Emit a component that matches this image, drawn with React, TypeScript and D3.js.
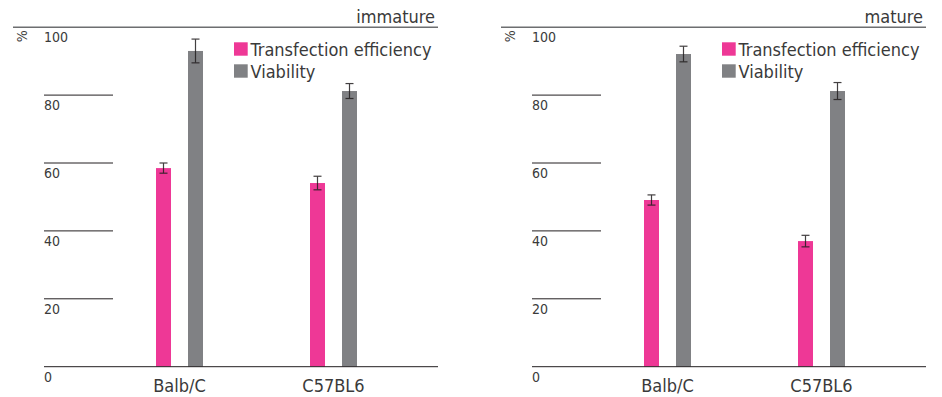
import React from 'react';
import * as d3 from 'd3';

// categories and series
const categories = ['Balb/C', 'C57BL6'];
const seriesNames = ['Transfection efficiency', 'Viability'];
const seriesColors = ['#ee3896', '#808184'];
const yTicks = [0, 20, 40, 60, 80, 100];

// values (%), with error bar half-widths
const immatureTransfection = [58.5, 54.1];
const immatureTransfectionErr = [1.5, 2.0];
const immatureViability = [93.0, 81.2];
const immatureViabilityErr = [3.5, 2.2];

const matureTransfection = [49.1, 37.0];
const matureTransfectionErr = [1.5, 1.7];
const matureViability = [92.1, 81.2];
const matureViabilityErr = [2.3, 2.5];

const W = 942;
const H = 397;
const panelWidth = 425;
const font = "'DejaVu Sans Condensed', sans-serif";
const textColor = '#3a3a3a';

interface PanelProps {
  title: string;
  x0: number;
  values: number[][];
  errors: number[][];
}

const Panel: React.FC<PanelProps> = ({ title, x0, values, errors }) => {
  const y = d3.scaleLinear().domain([0, 100]).range([366.7, 27.2]);
  const x = d3.scalePoint<string>().domain(categories).range([166.5, 320.5]);
  const sub = d3.scalePoint<string>().domain(seriesNames).range([-16, 16]);
  const barW = 15;
  const labelX = 31;

  return (
    <g transform={`translate(${x0},0)`}>
      {/* title and top rule */}
      <text x={panelWidth - 3} y={23} textAnchor="end" fontSize={18} fill={textColor} fontFamily={font}>
        {title}
      </text>
      <line x1={0} x2={panelWidth} y1={y(100)} y2={y(100)} stroke="#6d6e70" strokeWidth={1.5} />
      <text
        transform={`translate(9,${y(100) + 9}) rotate(-90)`}
        textAnchor="middle"
        dominantBaseline="central"
        fontSize={14}
        fill={textColor}
        fontFamily={font}
      >
        %
      </text>

      {/* y ticks */}
      {yTicks.map((t) => (
        <g key={t}>
          {t > 0 && t < 100 && (
            <line x1={labelX} x2={100} y1={y(t)} y2={y(t)} stroke="#231f20" strokeWidth={1} />
          )}
          <text x={labelX} y={y(t) + 15} fontSize={14} fill={textColor} fontFamily={font}>
            {t}
          </text>
        </g>
      ))}

      {/* bars */}
      {categories.map((c, ci) =>
        seriesNames.map((s, si) => {
          const cx = (x(c) as number) + (sub(s) as number);
          const v = values[si][ci];
          const e = errors[si][ci];
          return (
            <g key={c + s}>
              <rect x={cx - barW / 2} y={y(v)} width={barW} height={y(0) - y(v)} fill={seriesColors[si]} />
              <g stroke="#231f20" strokeWidth={1.2} opacity={0.85}>
                <line x1={cx} x2={cx} y1={y(v + e)} y2={y(v - e)} />
                <line x1={cx - 4} x2={cx + 4} y1={y(v + e)} y2={y(v + e)} />
                <line x1={cx - 4} x2={cx + 4} y1={y(v - e)} y2={y(v - e)} />
              </g>
            </g>
          );
        })
      )}

      {/* baseline */}
      <line x1={labelX} x2={panelWidth} y1={y(0)} y2={y(0)} stroke="#231f20" strokeWidth={1} />

      {/* category labels */}
      {categories.map((c) => (
        <text key={c} x={x(c)} y={392} textAnchor="middle" fontSize={18} fill={textColor} fontFamily={font}>
          {c}
        </text>
      ))}

      {/* legend */}
      {seriesNames.map((s, si) => (
        <g key={s} transform={`translate(221,${42.3 + si * 22})`}>
          <rect x={0} y={0} width={13.7} height={13.4} fill={seriesColors[si]} />
          <text x={16.5} y={13.4} fontSize={18} fill={textColor} fontFamily={font}>
            {s}
          </text>
        </g>
      ))}
    </g>
  );
};

const App: React.FC = () => {
  return (
    <svg
      width={W}
      height={H}
      style={{ position: 'absolute', left: 0, top: 0, background: '#fff' }}
    >
      <Panel
        title="immature"
        x0={13}
        values={[immatureTransfection, immatureViability]}
        errors={[immatureTransfectionErr, immatureViabilityErr]}
      />
      <Panel
        title="mature"
        x0={501}
        values={[matureTransfection, matureViability]}
        errors={[matureTransfectionErr, matureViabilityErr]}
      />
    </svg>
  );
};

export default App;
